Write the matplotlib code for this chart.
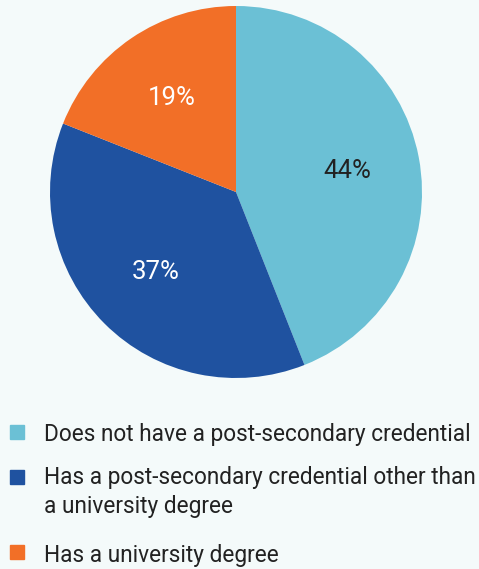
import matplotlib.pyplot as plt
from matplotlib.patches import Rectangle

# share of people by education level
labels = ['Does not have a post-secondary credential',
          'Has a post-secondary credential other than\na university degree',
          'Has a university degree']
values = [44, 37, 19]
colors = ['#6bc0d5', '#1f52a0', '#f26f27']
pct_colors = ['#222222', '#ffffff', '#ffffff']

plt.rcParams['font.family'] = ['Roboto', 'DejaVu Sans']
bg = '#f4fafa'
txt = '#222222'

W, H = 479, 569
fig = plt.figure(figsize=(W / 100, H / 100), dpi=100, facecolor=bg)

def fx(px):
    return px / W

def fy(py):
    return 1 - py / H

# pie: centre (236, 192), radius 186 px
ax = fig.add_axes([fx(50), fy(378), 372 / W, 372 / H])
ax.set_facecolor(bg)
wedges, _, pcts = ax.pie(values, colors=colors, startangle=90, counterclock=False,
                         autopct='%d%%', pctdistance=0.61,
                         wedgeprops=dict(linewidth=0),
                         textprops=dict(fontsize=18.5))
for t, c in zip(pcts, pct_colors):
    t.set_color(c)
ax.set_xlim(-1, 1)
ax.set_ylim(-1, 1)
ax.set_aspect('equal')
ax.axis('off')

# legend drawn by hand
rows = [(425, 441), (470, 484), (545, 562)]
texts = []
for (sq_top, base), lab, c in zip(rows, labels, colors):
    fig.patches.append(Rectangle((fx(10), fy(sq_top + 14)), 14 / W, 14 / H,
                                 transform=fig.transFigure, color=c))
    for i, line in enumerate(lab.split('\n')):
        texts.append(fig.text(fx(44), fy(base + 29 * i), line, fontsize=20,
                              color=txt, va='baseline'))

# shrink legend text so the longest line ends near the right edge
r = fig.canvas.get_renderer()
widest = max(t.get_window_extent(r).width for t in texts)
size = 20 * 430 / widest
for t in texts:
    t.set_fontsize(size)

fig.savefig('out.png', dpi=100, facecolor=bg)
